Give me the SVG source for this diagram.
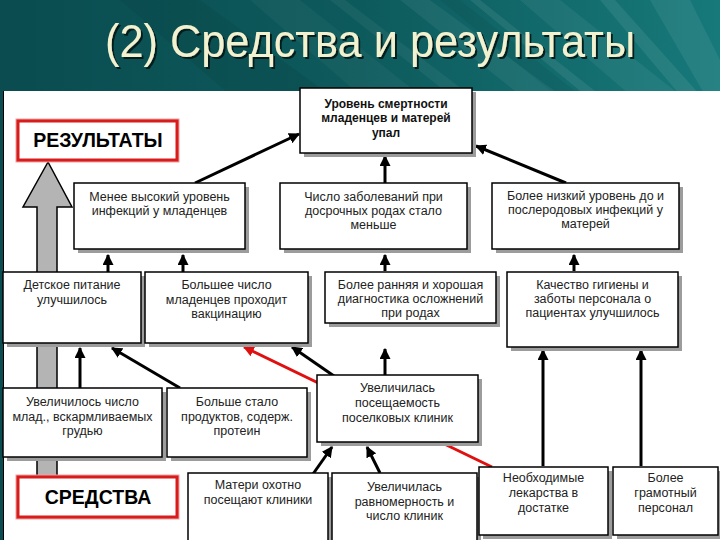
<svg xmlns="http://www.w3.org/2000/svg" width="720" height="540" viewBox="0 0 720 540">
  <defs>
    <linearGradient id="bg" x1="0" y1="0" x2="1" y2="0">
      <stop offset="0" stop-color="#0a4c50"/>
      <stop offset="0.5" stop-color="#0d5a5c"/>
      <stop offset="1" stop-color="#17797a"/>
    </linearGradient>
    <filter id="tshadow" x="-5%" y="-20%" width="110%" height="140%">
      <feDropShadow dx="2" dy="2" stdDeviation="0.6" flood-color="#061818" flood-opacity="0.9"/>
    </filter>
    <marker id="ah" viewBox="0 0 10 10" refX="9" refY="5" markerWidth="11" markerHeight="11" markerUnits="userSpaceOnUse" orient="auto">
      <path d="M0,0 L10,5 L0,10 z" fill="#000"/>
    </marker>
    <marker id="ahr" viewBox="0 0 10 10" refX="9" refY="5" markerWidth="11" markerHeight="11" markerUnits="userSpaceOnUse" orient="auto">
      <path d="M0,0 L10,5 L0,10 z" fill="#e01010"/>
    </marker>
  </defs>
  <style>
    .shadow { fill: #9c9c9c; }
    .box { fill: #ffffff; stroke: #000; stroke-width: 1.5; }
    .redbox { fill: #ffffff; stroke: #d81c1c; stroke-width: 3; }
    .t { font-family: "Liberation Sans", Arial, sans-serif; font-size: 12.5px; fill: #222; text-anchor: middle; }
    .tb { font-family: "Liberation Sans", Arial, sans-serif; font-size: 12px; font-weight: bold; fill: #111; text-anchor: middle; }
    .big { font-family: "Liberation Sans", Arial, sans-serif; font-size: 19.5px; font-weight: bold; fill: #000; text-anchor: middle; }
    .con { stroke: #000; stroke-width: 3; fill: none; marker-end: url(#ah); }
    .conr { stroke: #e01010; stroke-width: 3; fill: none; marker-end: url(#ahr); }
    .title { font-family: "Liberation Sans", Arial, sans-serif; font-size: 46px; fill: #f2f2d0; }
  </style>

  <!-- header background -->
  <rect x="0" y="0" width="720" height="540" fill="url(#bg)"/>
  <g fill="#ffffff">
    <polygon points="250,0 300,0 420,95 360,95" opacity="0.04"/>
    <polygon points="330,0 345,0 470,95 450,95" opacity="0.05"/>
    <polygon points="400,0 430,0 560,95 520,95" opacity="0.06"/>
    <polygon points="470,0 480,0 600,95 585,95" opacity="0.08"/>
    <polygon points="520,0 560,0 680,95 630,95" opacity="0.06"/>
    <polygon points="600,0 615,0 700,95 680,95" opacity="0.08"/>
    <polygon points="650,0 690,0 720,60 720,95 705,95" opacity="0.07"/>
  </g>
  <g fill="#000000">
    <polygon points="120,0 200,0 330,95 230,95" opacity="0.06"/>
    <polygon points="440,0 460,0 580,95 555,95" opacity="0.05"/>
  </g>
  <text class="title" x="105" y="57" filter="url(#tshadow)" textLength="530" lengthAdjust="spacingAndGlyphs">(2) Средства и результаты</text>

  <!-- white panel -->
  <rect x="3" y="91" width="717" height="449" fill="#ffffff"/>
  <line x1="3.5" y1="91" x2="3.5" y2="540" stroke="#000" stroke-width="1"/>

  <!-- big grey arrow -->
  <polygon id="big-arrow" points="48,162 23,207 37,207 37,478 57,478 57,207 72,207" fill="#b4b4b4" stroke="#000" stroke-width="1.5"/>

  <!-- connectors -->
  <g id="connectors">
    <line class="con" x1="195" y1="183" x2="299" y2="134"/>
    <line class="con" x1="385" y1="183" x2="385" y2="156"/>
    <line class="con" x1="566" y1="183" x2="476" y2="146"/>
    <line class="con" x1="108" y1="272" x2="108" y2="255"/>
    <line class="con" x1="183" y1="272" x2="183" y2="255"/>
    <line class="con" x1="385" y1="271" x2="385" y2="255"/>
    <line class="con" x1="574" y1="271" x2="574" y2="255"/>
    <line class="con" x1="80" y1="388" x2="80" y2="348"/>
    <line class="con" x1="180" y1="388" x2="112" y2="348"/>
    <line class="conr" x1="492" y1="467" x2="244" y2="347"/>
    <line class="con" x1="334" y1="376" x2="292" y2="347"/>
    <line class="con" x1="385" y1="375" x2="385" y2="349"/>
    <line class="con" x1="543" y1="466" x2="543" y2="350"/>
    <line class="con" x1="641" y1="466" x2="641" y2="350"/>
    <line class="con" x1="313" y1="474" x2="332" y2="447"/>
    <line class="con" x1="380" y1="473" x2="367" y2="447"/>
  </g>

  <!-- nodes -->
  <g id="results-label">
    <rect x="18" y="121" width="159" height="39" fill="none" stroke="#f0a0a0" stroke-width="5"/>
    <rect class="redbox" x="18" y="121" width="159" height="39"/>
    <text class="big" x="98" y="147">РЕЗУЛЬТАТЫ</text>
  </g>

  <g id="mortality">
    <rect class="shadow" x="304" y="92" width="172" height="65"/>
    <rect class="box" x="300" y="88" width="172" height="65"/>
    <text class="tb" x="386" y="108">Уровень смертности</text>
    <text class="tb" x="386" y="122">младенцев и матерей</text>
    <text class="tb" x="386" y="137">упал</text>
  </g>

  <g id="infant-infections">
    <rect class="shadow" x="78" y="187" width="171" height="66"/>
    <rect class="box" x="74" y="183" width="171" height="66"/>
    <text class="t" x="159.5" y="201">Менее высокий уровень</text>
    <text class="t" x="159.5" y="215">инфекций у младенцев</text>
  </g>

  <g id="premature-births">
    <rect class="shadow" x="284" y="187" width="187" height="66"/>
    <rect class="box" x="280" y="183" width="187" height="66"/>
    <text class="t" x="373.5" y="201">Число заболеваний при</text>
    <text class="t" x="373.5" y="215">досрочных родах стало</text>
    <text class="t" x="373.5" y="229">меньше</text>
  </g>

  <g id="maternal-infections">
    <rect class="shadow" x="496" y="187" width="187" height="66"/>
    <rect class="box" x="492" y="183" width="187" height="66"/>
    <text class="t" x="585.5" y="200">Более низкий уровень до и</text>
    <text class="t" x="585.5" y="214">послеродовых инфекций у</text>
    <text class="t" x="585.5" y="228">матерей</text>
  </g>

  <g id="child-nutrition">
    <rect class="shadow" x="7" y="276" width="138" height="71"/>
    <rect class="box" x="3" y="272" width="138" height="71"/>
    <text class="t" x="72" y="289">Детское питание</text>
    <text class="t" x="72" y="304">улучшилось</text>
  </g>

  <g id="vaccination">
    <rect class="shadow" x="149" y="276" width="163" height="71"/>
    <rect class="box" x="145" y="272" width="163" height="71"/>
    <text class="t" x="226.5" y="289">Большее число</text>
    <text class="t" x="226.5" y="304">младенцев проходит</text>
    <text class="t" x="226.5" y="318">вакцинацию</text>
  </g>

  <g id="diagnostics">
    <rect class="shadow" x="329" y="276" width="171" height="51"/>
    <rect class="box" x="325" y="272" width="171" height="51"/>
    <text class="t" x="410.5" y="289">Более ранняя и хорошая</text>
    <text class="t" x="410.5" y="303">диагностика осложнений</text>
    <text class="t" x="410.5" y="317">при родах</text>
  </g>

  <g id="hygiene">
    <rect class="shadow" x="511" y="276" width="171" height="75"/>
    <rect class="box" x="507" y="272" width="171" height="75"/>
    <text class="t" x="592.5" y="289">Качество гигиены и</text>
    <text class="t" x="592.5" y="303">заботы персонала о</text>
    <text class="t" x="592.5" y="317">пациентах улучшилось</text>
  </g>

  <g id="breastfeeding">
    <rect class="shadow" x="7" y="392" width="159" height="69"/>
    <rect class="box" x="3" y="388" width="159" height="69"/>
    <text class="t" x="82.5" y="406">Увеличилось число</text>
    <text class="t" x="82.5" y="421">млад., вскармливаемых</text>
    <text class="t" x="82.5" y="435">грудью</text>
  </g>

  <g id="protein">
    <rect class="shadow" x="171" y="392" width="140" height="69"/>
    <rect class="box" x="167" y="388" width="140" height="69"/>
    <text class="t" x="237" y="406">Больше стало</text>
    <text class="t" x="237" y="421">продуктов, содерж.</text>
    <text class="t" x="237" y="435">протеин</text>
  </g>

  <g id="clinic-attendance">
    <rect class="shadow" x="321" y="379" width="161" height="67"/>
    <rect class="box" x="317" y="375" width="161" height="67"/>
    <text class="t" x="397.5" y="392">Увеличилась</text>
    <text class="t" x="397.5" y="407">посещаемость</text>
    <text class="t" x="397.5" y="422">поселковых клиник</text>
  </g>

  <g id="means-label">
    <rect x="18" y="477" width="159" height="40" fill="none" stroke="#f0a0a0" stroke-width="5"/>
    <rect class="redbox" x="18" y="477" width="159" height="40"/>
    <text class="big" x="98" y="504">СРЕДСТВА</text>
  </g>

  <g id="mothers-visit">
    <rect class="shadow" x="192" y="477" width="140" height="70"/>
    <rect class="box" x="188" y="473" width="140" height="70"/>
    <text class="t" x="258" y="489">Матери охотно</text>
    <text class="t" x="258" y="504">посещают клиники</text>
  </g>

  <g id="clinic-number">
    <rect class="shadow" x="336" y="477" width="145" height="70"/>
    <rect class="box" x="332" y="473" width="145" height="70"/>
    <text class="t" x="404.5" y="491">Увеличилась</text>
    <text class="t" x="404.5" y="506">равномерность и</text>
    <text class="t" x="404.5" y="520">число клиник</text>
  </g>

  <g id="medicines">
    <rect class="shadow" x="483" y="471" width="129" height="68"/>
    <rect class="box" x="479" y="467" width="129" height="68"/>
    <text class="t" x="543.5" y="482">Необходимые</text>
    <text class="t" x="543.5" y="497">лекарства в</text>
    <text class="t" x="543.5" y="512">достатке</text>
  </g>

  <g id="staff">
    <rect class="shadow" x="617" y="471" width="105" height="68"/>
    <rect class="box" x="613" y="467" width="105" height="68"/>
    <text class="t" x="665.5" y="482">Более</text>
    <text class="t" x="665.5" y="497">грамотный</text>
    <text class="t" x="665.5" y="512">персонал</text>
  </g>
</svg>
